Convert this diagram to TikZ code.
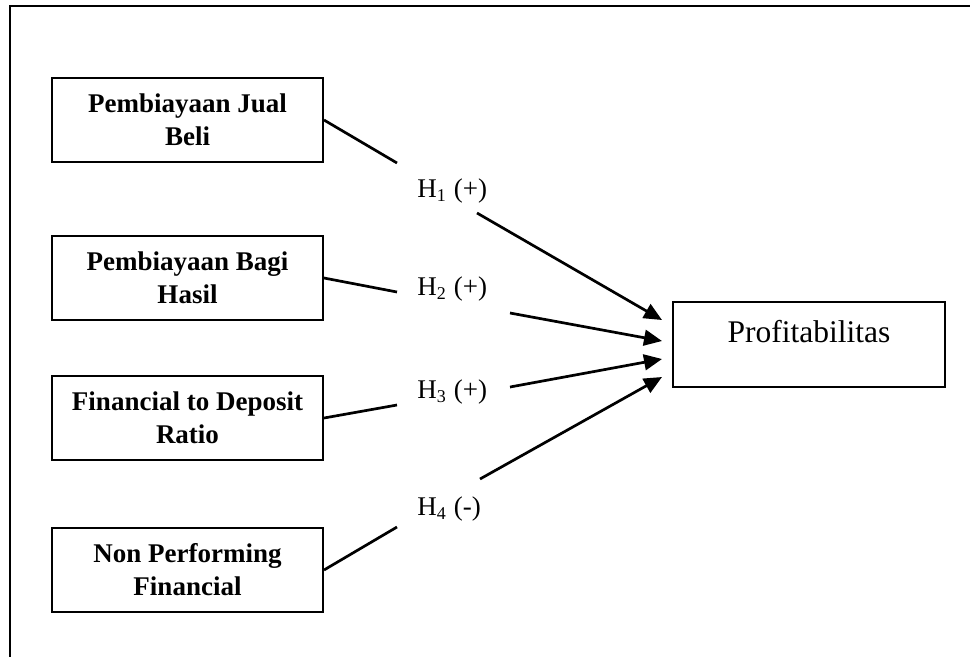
\documentclass[tikz,border=0pt]{standalone}
\usepackage{fontspec}
\setmainfont{Liberation Serif}
\usetikzlibrary{arrows.meta}
\begin{document}
\begin{tikzpicture}[x=0.4444pt,y=-0.4444pt,
  varbox/.style={draw,line width=0.9pt,minimum width=120.4pt,minimum height=37.3pt,
     inner sep=0pt,align=center,font=\fontsize{12}{14.7}\selectfont\bfseries},
  conn/.style={line width=1.2pt},
  arr/.style={line width=1.2pt,-{Triangle[length=8pt,width=7pt]}},
  hlab/.style={font=\fontsize{12}{14}\selectfont,inner sep=0pt,anchor=base west}]
\useasboundingbox (0,0) rectangle (970,657);
\draw[line width=0.9pt] (970,6) -- (10,6) -- (10,657);
\node[varbox] (b1) at (187.5,120) {Pembiayaan Jual\\Beli};
\node[varbox] (b2) at (187.5,278) {Pembiayaan Bagi\\Hasil};
\node[varbox] (b3) at (187.5,418) {Financial to Deposit\\Ratio};
\node[varbox] (b4) at (187.5,570) {Non Performing\\Financial};
\node[draw,line width=0.9pt,minimum width=120.9pt,minimum height=37.8pt,inner sep=0pt] (p) at (809,344.5) {};
\node[font=\fontsize{14}{16}\selectfont,anchor=base,inner sep=0pt] (pt) at (809,342) {Profitabilitas};
\node[hlab] (h1) at (417,197) {H\textsubscript{1} (+)};
\node[hlab] (h2) at (417,295) {H\textsubscript{2} (+)};
\node[hlab] (h3) at (417,398) {H\textsubscript{3} (+)};
\node[hlab] (h4) at (417,515) {H\textsubscript{4} (-)};
\coordinate (c1) at (397,163);
\coordinate (c2) at (397,292);
\coordinate (c3) at (397,405);
\coordinate (c4) at (397,527);
\coordinate (s1) at (477,213);
\coordinate (s2) at (510,313);
\coordinate (s3) at (510,387);
\coordinate (s4) at (480,479);
\coordinate (t1) at (662,320);
\coordinate (t2) at (662,341);
\coordinate (t3) at (662,359);
\coordinate (t4) at (662,377);
\draw[conn] (b1.east) -- (c1);
\draw[conn] (b2.east) -- (c2);
\draw[conn] (b3.east) -- (c3);
\draw[conn] (b4.east) -- (c4);
\draw[arr] (s1) -- (t1);
\draw[arr] (s2) -- (t2);
\draw[arr] (s3) -- (t3);
\draw[arr] (s4) -- (t4);
\end{tikzpicture}
\end{document}
